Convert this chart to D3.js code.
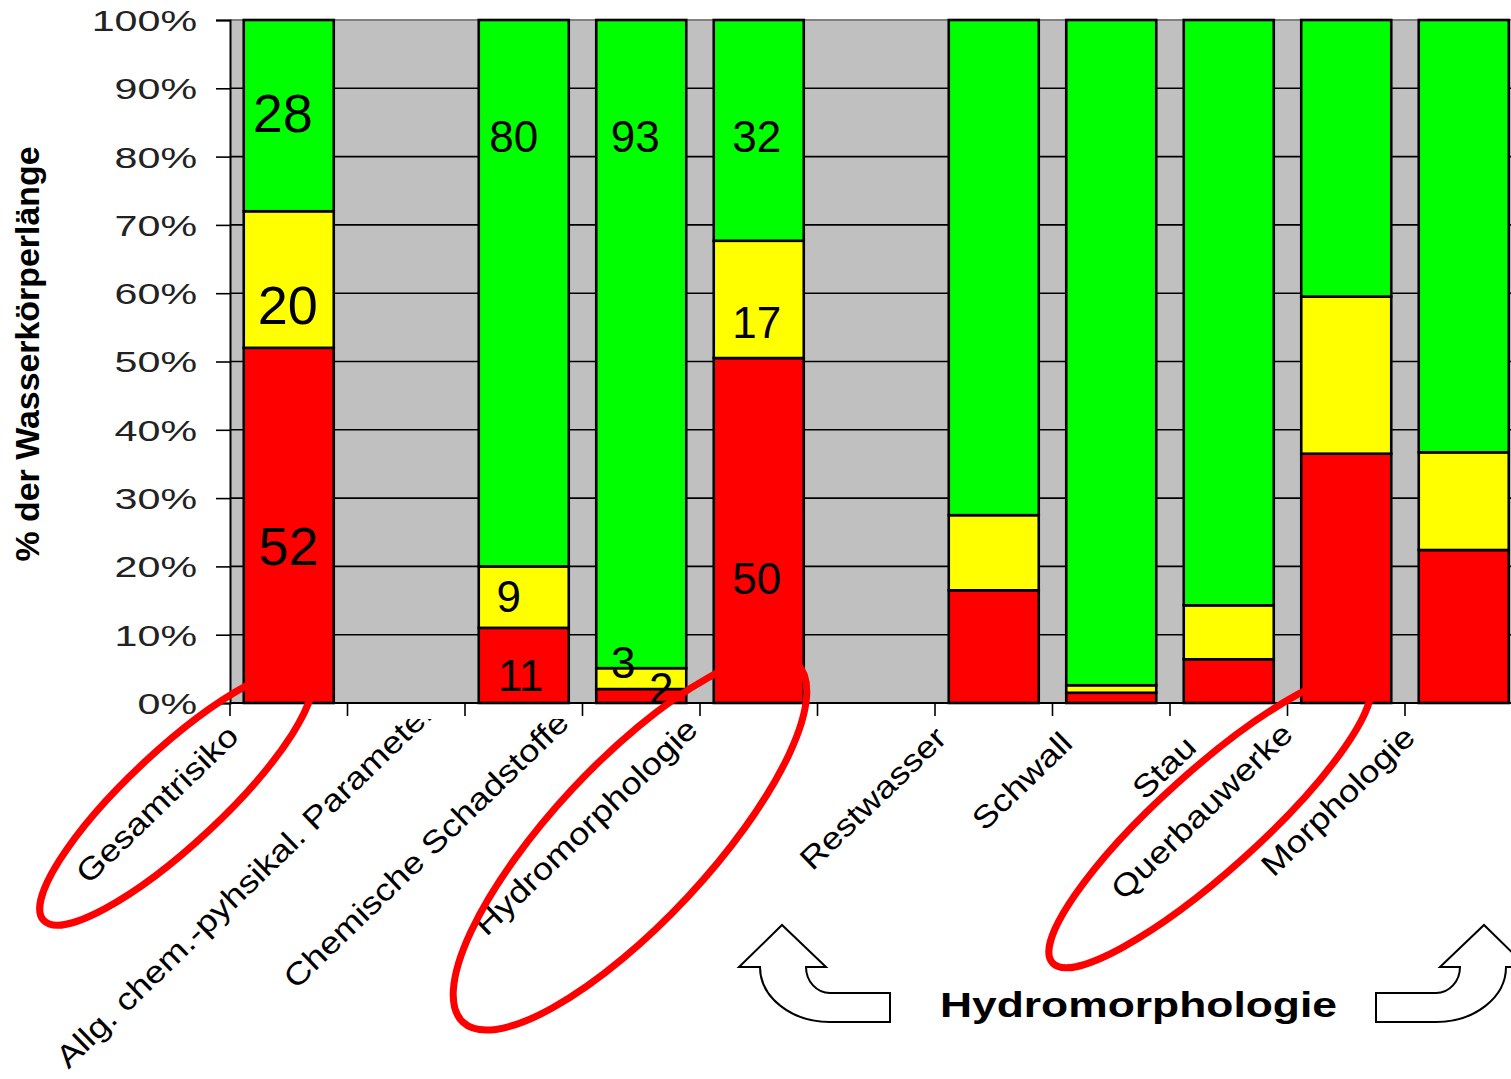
<!DOCTYPE html>
<html><head><meta charset="utf-8">
<script src="https://cdn.jsdelivr.net/npm/d3@7"></script>
<style>body{margin:0;background:#fff;overflow:hidden} svg{display:block}</style>
</head><body>
<svg id="chart" width="1511" height="1079"></svg>
<script>
// ---------- DATA ----------
const categories   = ["Gesamtrisiko", "", "Allg. chem.-pyhsikal. Parameter", "Chemische Schadstoffe", "Hydromorphologie", "", "Restwasser", "Schwall", "Stau", "Querbauwerke", "Morphologie"];
const redValues    = [52, 0, 11, 2, 50, 0, 16.5, 1.5, 6.4, 36.5, 22.4];
const yellowValues = [20, 0,  9, 3, 17, 0, 11.0, 1.1, 7.9, 23.0, 14.3];
const greenValues  = [28, 0, 80, 93, 32, 0, 72.5, 97.4, 85.7, 40.5, 63.3];
const showValues   = [true, false, true, true, true, false, false, false, false, false, false];
const yTickValues  = [0, 10, 20, 30, 40, 50, 60, 70, 80, 90, 100];
const yTitle = "% der Wasserkörperlänge";
const groupTitle = "Hydromorphologie";

// ---------- LAYOUT (not data) ----------
const W = 1511, H = 1079;
const plot = {left: 230, right: 1522.5, top: 20, bottom: 703};
const LABEL_AT = { // label centre, in % of the axis
  red:    [23.0, null, 4.0, 2.2, 18.3],
  yellow: [58.3, null, 15.7, 5.9, 55.8],
  green:  [86.4, null, 83.0, 83.0, 83.0]
};
const LABEL_DX = {
  red:    [0, 0, -3, 20, -2],
  yellow: [-1, 0, -15, -18, -2],
  green:  [-6, 0, -10, -6, -2]
};
const colors = {red: "#FF0000", yellow: "#FFFF00", green: "#00FF00"};
const FONT = "'Liberation Sans', Arial, sans-serif";

const svg = d3.select("#chart");

const x = d3.scaleBand().domain(d3.range(categories.length))
  .range([plot.left, plot.right]).paddingInner(0.234).paddingOuter(0.117);
const y = d3.scaleLinear().domain([0, 100]).range([plot.bottom, plot.top]);
const boundary = i => plot.left + i * x.step();

// normalised 100% stack
const seriesKeys = ["red", "yellow", "green"];
const raw = {red: redValues, yellow: yellowValues, green: greenValues};
const rows = categories.map((c, i) => {
  const tot = redValues[i] + yellowValues[i] + greenValues[i];
  const r = {i};
  seriesKeys.forEach(k => r[k] = tot ? raw[k][i] / tot * 100 : 0);
  return r;
});
const stacked = d3.stack().keys(seriesKeys)(rows);

// background
svg.append("rect").attr("x", plot.left).attr("y", plot.top)
  .attr("width", plot.right - plot.left).attr("height", plot.bottom - plot.top)
  .attr("fill", "#C0C0C0");

// gridlines
svg.append("g").selectAll("line").data(yTickValues.filter(v => v > 0 && v < 100)).join("line")
  .attr("x1", plot.left).attr("x2", plot.right)
  .attr("y1", d => y(d)).attr("y2", d => y(d))
  .attr("stroke", "#000").attr("stroke-width", 1.6);
svg.append("line").attr("x1", plot.left).attr("x2", plot.right)
  .attr("y1", y(100)).attr("y2", y(100)).attr("stroke", "#808080").attr("stroke-width", 2);

// bars
stacked.forEach(s => {
  svg.append("g").selectAll("rect").data(s.filter(d => d[1] - d[0] > 0)).join("rect")
    .attr("x", d => x(d.data.i)).attr("width", x.bandwidth())
    .attr("y", d => y(d[1])).attr("height", d => y(d[0]) - y(d[1]))
    .attr("fill", colors[s.key]).attr("stroke", "#000").attr("stroke-width", 2.6);
});

// value labels
seriesKeys.forEach(k => {
  categories.forEach((c, i) => {
    if (!showValues[i]) return;
    const fs = i === 0 ? 54 : 44;
    svg.append("text")
      .attr("x", x(i) + x.bandwidth() / 2 + LABEL_DX[k][i])
      .attr("y", y(LABEL_AT[k][i]) + 0.358 * fs)
      .attr("text-anchor", "middle").attr("font-family", FONT).attr("font-size", fs)
      .attr("fill", "#000").text(d3.format("d")(raw[k][i]));
  });
});

// y axis
const yAxis = svg.append("g").attr("transform", `translate(${plot.left},0)`)
  .call(d3.axisLeft(y).tickValues(yTickValues).tickSize(14).tickPadding(19).tickFormat(d => d + "%"));
yAxis.select(".domain").attr("stroke", "#000").attr("stroke-width", 2);
yAxis.selectAll(".tick line").attr("stroke", "#000").attr("stroke-width", 1.6);
yAxis.selectAll(".tick text").attr("font-family", FONT).attr("font-size", 29).attr("fill", "#222")
  .attr("x", -33 / 1.42).attr("transform", "scale(1.42,1)").attr("dy", "0.36em");

// x axis line + ticks at band boundaries
svg.append("line").attr("x1", plot.left).attr("x2", plot.right)
  .attr("y1", plot.bottom).attr("y2", plot.bottom).attr("stroke", "#000").attr("stroke-width", 2.2);
svg.append("g").selectAll("line").data(d3.range(categories.length + 1)).join("line")
  .attr("x1", d => boundary(d)).attr("x2", d => boundary(d))
  .attr("y1", plot.bottom).attr("y2", plot.bottom + 13)
  .attr("stroke", "#000").attr("stroke-width", 1.6);

// category labels (rotated, clipped below axis)
svg.append("defs").append("clipPath").attr("id", "labClip")
  .append("rect").attr("x", 0).attr("y", 719).attr("width", W).attr("height", H);
const labG = svg.append("g").attr("clip-path", "url(#labClip)");
const LAB_FS = 31, LAB_SX = 1.17;
categories.forEach((name, i) => {
  if (!name) return;
  const t = labG.append("text").text(name).attr("font-family", FONT).attr("font-size", LAB_FS)
    .attr("text-anchor", "end").attr("fill", "#000");
  const L = t.node().getComputedTextLength() * LAB_SX;
  const px = boundary(i) + 10 - 0.13 * (L - 216);
  const py = 738 - 0.08 * (L - 216);
  t.attr("transform", `translate(${px},${py}) rotate(-44) scale(${LAB_SX},1)`);
});

// y title
svg.append("text").attr("transform", "translate(39,354) rotate(-90)")
  .attr("text-anchor", "middle").attr("font-family", FONT).attr("font-weight", "bold")
  .attr("font-size", 33).attr("textLength", 415).attr("lengthAdjust", "spacingAndGlyphs")
  .attr("fill", "#000").text(yTitle);

// annotation ellipses
const ellipses = [
  {cx: 176, cy: 797, rx: 181, ry: 47, a: -43},
  {cx: 630, cy: 843, rx: 245, ry: 79, a: -47},
  {cx: 1210, cy: 821, rx: 212, ry: 50, a: -42}
];
svg.append("g").selectAll("ellipse").data(ellipses).join("ellipse")
  .attr("cx", 0).attr("cy", 0).attr("rx", d => d.rx).attr("ry", d => d.ry)
  .attr("transform", d => `translate(${d.cx},${d.cy}) rotate(${d.a})`)
  .attr("fill", "none").attr("stroke", "#FF0000").attr("stroke-width", 7);

// block arrows
const arrowPath = "M 890 993 L 830 993 A 24 26 0 0 1 806 967 L 826 967 L 782 925 L 739 967 L 760 967 A 70 55 0 0 0 830 1022 L 890 1022 Z";
svg.append("path").attr("d", arrowPath).attr("fill", "#fff").attr("stroke", "#000").attr("stroke-width", 2);
svg.append("path").attr("d", arrowPath).attr("transform", "translate(2266,0) scale(-1,1)")
  .attr("fill", "#fff").attr("stroke", "#000").attr("stroke-width", 2);

svg.append("text").attr("x", 940).attr("y", 1017).attr("font-family", FONT).attr("font-weight", "bold")
  .attr("font-size", 35).attr("textLength", 397).attr("lengthAdjust", "spacingAndGlyphs")
  .attr("fill", "#000").text(groupTitle);
</script>
</body></html>
